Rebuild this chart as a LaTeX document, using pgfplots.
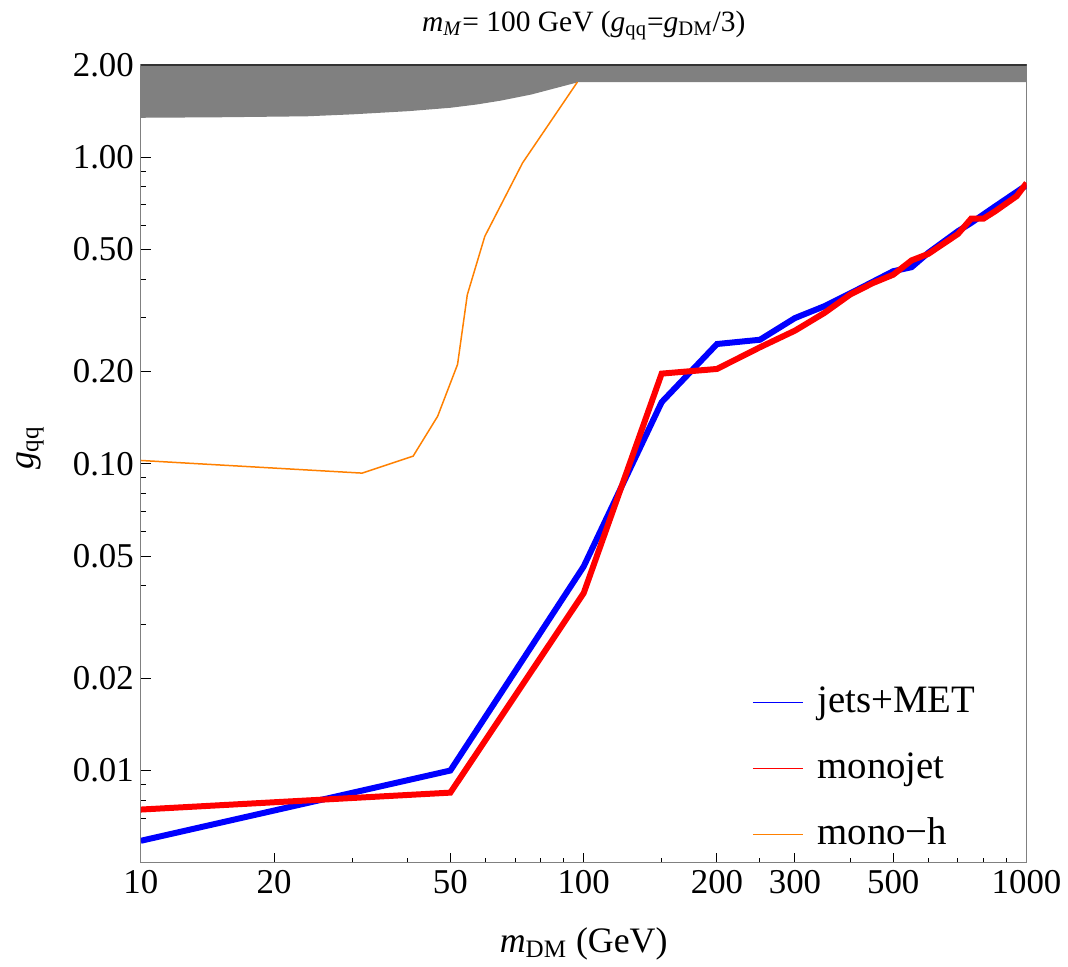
\documentclass[border=0pt]{standalone}
\usepackage{pgfplots}
\pgfplotsset{compat=1.18}
\usepackage{fontspec}
\setmainfont{Liberation Serif}
\definecolor{mmaorange}{rgb}{1,0.5,0}
\begin{document}
\begin{tikzpicture}
\begin{axis}[
  xmode=log, ymode=log,
  scale only axis, width=443.5bp, height=399.5bp,
  xmin=10, xmax=1000, ymin=0.005, ymax=2,
  xtick pos=bottom, ytick pos=left,
  xtick={10,20,50,100,200,300,500,1000},
  xticklabels={10,20,50,100,200,300,500,1000},
  minor xtick={30,40,60,70,80,90,150,250,400,600,700,800,900},
  ytick={0.01,0.02,0.05,0.1,0.2,0.5,1,2},
  yticklabels={0.01,0.02,0.05,0.10,0.20,0.50,1.00,2.00},
  minor ytick={0.006,0.007,0.008,0.009,0.03,0.04,0.06,0.07,0.08,0.09,0.3,0.4,0.6,0.7,0.8,0.9},
  major tick length=5bp, minor tick length=2.5bp,
  tick style={black, line width=0.5bp},
  axis line style={gray, line width=0.6bp},
  tick label style={font=\fontsize{17.5}{20}\selectfont},
  title={\textit{m}\textsubscript{\textit{M}}= 100 GeV (\textit{g}\textsubscript{qq}=\textit{g}\textsubscript{DM}/3)},
  title style={font=\fontsize{14.8}{17}\selectfont, at={(axis description cs:0.5,1)}, anchor=south, yshift=3bp},
  xlabel={\textit{m}\textsubscript{DM} (GeV)},
  xlabel style={font=\fontsize{18}{20}\selectfont, at={(axis description cs:0.5,0)}, anchor=center, yshift=-40.5bp},
  ylabel={\textit{g}\textsubscript{qq}},
  ylabel style={font=\fontsize{18}{20}\selectfont, at={(axis description cs:-0.125,0.52)}, anchor=center},
  legend style={draw=none, fill=none, inner sep=0pt, font=\fontsize{19.5}{22}\selectfont,
    at={(axis description cs:0.690,0.229)}, anchor=north west, row sep=11bp, column sep=5bp,
    nodes={text height=14bp, text depth=4bp, inner sep=2bp}},
  legend cell align=left,
  legend image code/.code={\draw[#1] (0bp,0bp) -- (25bp,0bp);},
]
% excluded region (grey band)
\addplot[fill=gray, draw=none, forget plot] coordinates {
  (10,1.345) (15,1.35) (23.7,1.36) (30,1.38) (40.3,1.414) (50,1.45) (57.3,1.486) (65,1.53) (76.2,1.602) (85,1.67) (97.3,1.758) (1000,1.758) (1000,2) (10,2)
} -- cycle;
% jets+MET
\addplot[blue, line width=3bp, forget plot] coordinates {
  (10,0.0059) (50,0.0100) (100,0.0463) (150,0.159) (200,0.246) (250,0.254) (300,0.299) (350,0.327) (400,0.360) (500,0.425) (550,0.438) (600,0.488) (700,0.574) (750,0.611) (850,0.692) (1000,0.811)
};
% monojet
\addplot[red, line width=3bp, forget plot] coordinates {
  (10,0.00746) (50,0.00847) (100,0.0379) (150,0.197) (200,0.204) (250,0.240) (300,0.272) (350,0.311) (400,0.357) (450,0.389) (500,0.414) (550,0.461) (600,0.484) (700,0.562) (750,0.631) (800,0.631) (850,0.667) (950,0.747) (1000,0.824)
};
% mono-h
\addplot[mmaorange, line width=0.75bp, forget plot] coordinates {
  (10,0.1026) (31.6,0.0933) (41.2,0.106) (46.8,0.143) (51.9,0.211) (54.6,0.356) (59.8,0.552) (72.8,0.959) (96.8,1.76)
};
\addlegendimage{blue, line width=0.6bp}
\addlegendentry{jets+MET}
\addlegendimage{red, line width=0.6bp}
\addlegendentry{monojet}
\addlegendimage{mmaorange, line width=0.6bp}
\addlegendentry{mono\textminus h}
\draw[black!80, line width=1bp] (rel axis cs:0,1) -- (rel axis cs:1,1);
\coordinate (TL) at (rel axis cs:-0.159,1.0814);
\coordinate (BR) at (rel axis cs:1.0451,-0.1277);
\end{axis}
\path (TL) rectangle (BR);
\end{tikzpicture}
\end{document}
